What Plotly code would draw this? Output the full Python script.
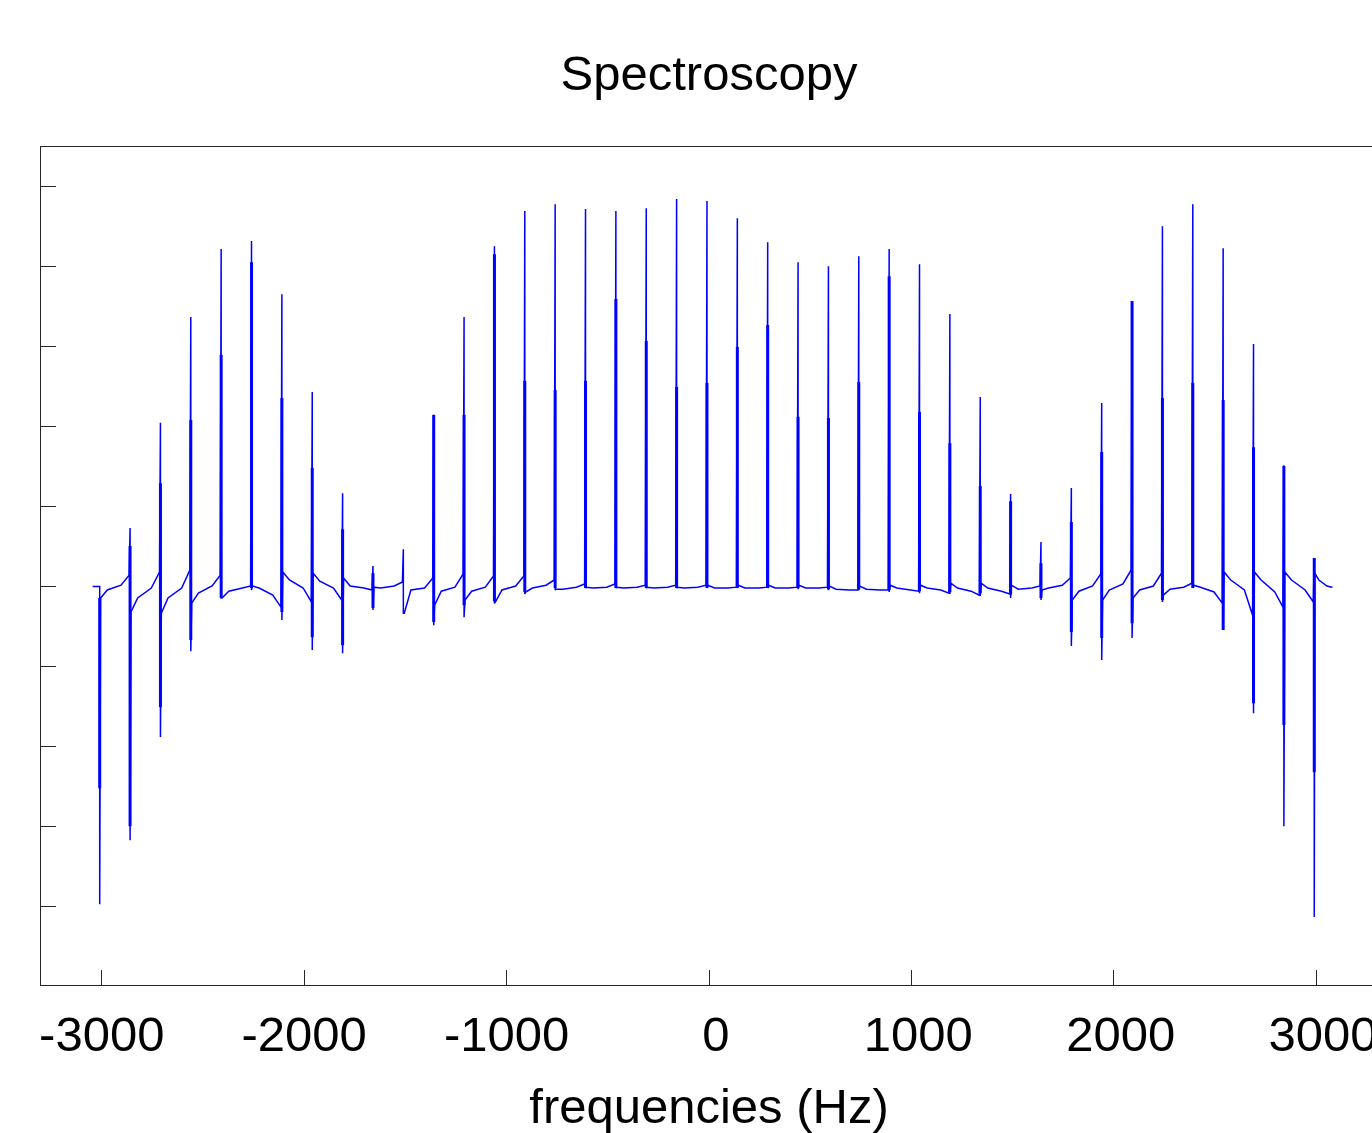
import plotly.graph_objects as go

# ---- data (frequencies in Hz, amplitudes in axis units) ----
peak_freq = [-3010, -2860, -2710, -2560, -2410, -2260, -2110, -1960, -1810, -1660,
             -1510, -1360, -1210, -1060, -910, -760, -610, -460, -310, -160,
             -10, 140, 290, 440, 590, 740, 890, 1040, 1190, 1340,
             1490, 1640, 1790, 1940, 2090, 2240, 2390, 2540, 2690, 2840, 2990]

peak_top = [0.000, 0.146, 0.409, 0.674, 0.844, 0.864, 0.731, 0.486, 0.233, 0.051,
            0.093, 0.429, 0.674, 0.851, 0.939, 0.956, 0.944, 0.939, 0.946, 0.969,
            0.964, 0.921, 0.861, 0.811, 0.801, 0.826, 0.844, 0.806, 0.681, 0.474,
            0.231, 0.111, 0.246, 0.459, 0.714, 0.901, 0.956, 0.846, 0.606, 0.303, 0.071]

peak_thick_top = [-0.029, 0.101, 0.258, 0.416, 0.579, 0.811, 0.471, 0.296, 0.143, 0.033,
                  0.000, 0.429, 0.429, 0.831, 0.514, 0.491, 0.514, 0.719, 0.614, 0.499,
                  0.509, 0.599, 0.654, 0.424, 0.421, 0.511, 0.776, 0.436, 0.358, 0.251,
                  0.213, 0.058, 0.161, 0.336, 0.714, 0.471, 0.509, 0.466, 0.348, 0.301, 0.071]

peak_thick_bottom = [-0.505, -0.600, -0.302, -0.134, -0.029, -0.004, -0.064, -0.127, -0.147, -0.054,
                     0.000, -0.089, -0.047, -0.037, -0.014, -0.004, -0.004, -0.004, -0.004, -0.004,
                     -0.004, -0.004, -0.004, -0.004, -0.007, -0.007, -0.009, -0.012, -0.014, -0.017,
                     -0.020, -0.029, -0.114, -0.129, -0.092, -0.034, -0.004, -0.109, -0.292, -0.347, -0.465]

peak_bottom = [-0.795, -0.635, -0.377, -0.162, -0.029, -0.009, -0.084, -0.159, -0.167, -0.059,
               -0.067, -0.097, -0.077, -0.042, -0.019, -0.009, -0.004, -0.004, -0.004, -0.004,
               -0.004, -0.004, -0.004, -0.007, -0.009, -0.009, -0.014, -0.017, -0.019, -0.024,
               -0.029, -0.034, -0.149, -0.184, -0.129, -0.039, -0.004, -0.109, -0.317, -0.600, -0.827]

# baseline between peak i and the next one: just after, first quarter, last third, just before
gap_post = [-0.029, -0.064, -0.067, -0.042, -0.029, 0.001, 0.036, 0.033, 0.021, -0.002,
            -0.067, -0.047, -0.034, -0.039, -0.014, -0.007, -0.002, -0.002, -0.002, -0.002,
            0.003, 0.003, 0.003, 0.003, 0.001, 0.001, 0.003, 0.003, 0.008, 0.008,
            0.003, -0.009, -0.034, -0.034, -0.029, -0.022, 0.003, 0.036, 0.036, 0.036, 0.033]
gap_a = [-0.009, -0.029, -0.029, -0.017, -0.012, -0.004, 0.016, 0.013, 0.001, -0.004,
         -0.009, -0.012, -0.012, -0.009, -0.004, -0.007, -0.004, -0.004, -0.004, -0.004,
         -0.004, -0.004, -0.004, -0.004, -0.007, -0.007, -0.004, -0.004, -0.004, -0.004,
         -0.007, -0.004, -0.012, -0.009, -0.009, -0.007, -0.002, 0.016, 0.016, 0.016, 0.016]
gap_b = [0.003, -0.004, -0.004, 0.001, -0.004, -0.022, -0.004, -0.004, -0.004, 0.001,
         -0.004, -0.002, -0.002, 0.001, 0.003, -0.002, -0.002, -0.002, -0.002, -0.002,
         -0.004, -0.004, -0.004, -0.004, -0.009, -0.009, -0.009, -0.009, -0.012, -0.012,
         -0.004, 0.003, 0.001, 0.006, 0.001, -0.002, -0.014, -0.009, -0.014, -0.009, 0.001]
gap_pre = [0.028, 0.036, 0.041, 0.028, 0.001, -0.052, -0.039, -0.034, -0.009, 0.011,
           0.021, 0.031, 0.026, 0.026, 0.016, 0.006, 0.006, 0.003, 0.003, 0.003,
           -0.002, -0.002, -0.002, -0.002, -0.009, -0.009, -0.012, -0.017, -0.022, -0.019,
           0.001, 0.021, 0.031, 0.041, 0.033, 0.008, -0.042, -0.072, -0.052, -0.039, -0.002]

start_freq, start_level = -3045, 0.0
end_freq = 3080

x_tick_vals = [-3000, -2000, -1000, 0, 1000, 2000, 3000]
# non-negative labels sit slightly right of their ticks in the reference
x_tick_text = ["-3000", "-2000", "-1000", "\u00a00", "\u00a01000", "\u00a02000", "\u00a03000"]
y_tick_vals = [-0.8, -0.6, -0.4, -0.2, 0.0, 0.2, 0.4, 0.6, 0.8, 1.0]

# ---- build the trace path from the arrays ----
GAP_FRAC = [0.03, 0.25, 0.7, 0.97]
xs = [start_freq, peak_freq[0] - 3]
ys = [start_level, start_level]
n = len(peak_freq)
for i, f in enumerate(peak_freq):
    xs += [f, f]
    ys += [peak_top[i], peak_bottom[i]]
    nxt = peak_freq[i + 1] if i + 1 < n else end_freq
    vals = [gap_post[i], gap_a[i], gap_b[i], gap_pre[i]]
    for fr, v in zip(GAP_FRAC, vals):
        xs.append(f + fr * (nxt - f))
        ys.append(v)
xs.append(end_freq)
ys.append(gap_pre[-1])

tx, ty = [], []
for i, f in enumerate(peak_freq):
    tx += [f, f, None]
    ty += [peak_thick_top[i], peak_thick_bottom[i], None]

FONT = "Liberation Sans, Arial, sans-serif"
AX = "#262626"
W, H = 1377, 1133

fig = go.Figure()
fig.add_trace(go.Scatter(x=xs, y=ys, mode="lines",
                         line=dict(color="#0000ff", width=1.5, simplify=False),
                         showlegend=False, hoverinfo="skip"))
fig.add_trace(go.Scatter(x=tx, y=ty, mode="lines",
                         line=dict(color="#0000ff", width=3, simplify=False),
                         showlegend=False, hoverinfo="skip", connectgaps=False))

fig.update_layout(
    width=W, height=H,
    margin=dict(l=41, r=0, t=147, b=148),
    paper_bgcolor="white", plot_bgcolor="white",
    font=dict(family=FONT, size=49, color="black"),
    title=dict(text="Spectroscopy", x=709 / W, xref="container", xanchor="center",
               y=1 - 73 / H, yref="container", yanchor="middle",
               font=dict(family=FONT, size=49, color="black")),
    xaxis=dict(range=[-3300, 3300], showline=True, linecolor=AX, linewidth=1.3,
               mirror=True, ticks="inside", ticklen=15, tickwidth=1.3, tickcolor=AX,
               tickvals=x_tick_vals, ticktext=x_tick_text,
               tickfont=dict(family=FONT, size=49, color="black"),
               ticklabelstandoff=6, automargin=False, ticklabeloverflow="allow",
               showgrid=False, zeroline=False,
               title=dict(text="frequencies (Hz)", standoff=40,
                          font=dict(family=FONT, size=49, color="black"))),
    yaxis=dict(range=[-0.997, 1.099], showline=True, linecolor=AX, linewidth=1.3,
               mirror=True, ticks="inside", ticklen=15, tickwidth=1.3, tickcolor=AX,
               tickvals=y_tick_vals, showticklabels=False, automargin=False,
               showgrid=False, zeroline=False),
)

fig.write_html(
    "out.html",
    config={"displayModeBar": False},
    post_script="document.body.style.margin='0';document.body.style.overflow='hidden';",
)
